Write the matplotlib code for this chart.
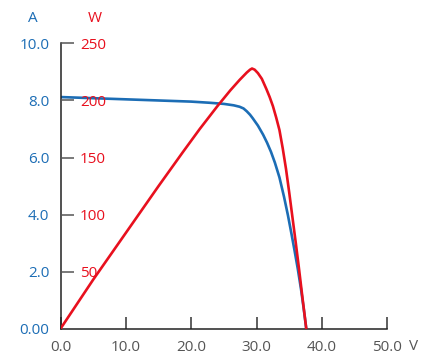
import matplotlib.pyplot as plt

plt.rcParams['font.family'] = ['Open Sans', 'DejaVu Sans']

# I-V curve (current, A)
v_cur = [0, 5, 10, 15, 20, 22.8, 25, 26.5, 27.4, 28.0, 28.5, 29.0, 29.4, 30.2, 31.0, 31.6, 32.2, 32.8, 33.5,
         34.2, 34.8, 35.3, 35.8, 36.3, 36.8, 37.2, 37.6]
i_cur = [8.12, 8.08, 8.04, 8.00, 7.96, 7.92, 7.88, 7.83, 7.78, 7.72, 7.62, 7.50, 7.38, 7.12, 6.80, 6.52, 6.20, 5.82, 5.30,
         4.62, 3.97, 3.37, 2.75, 2.10, 1.38, 0.72, 0.0]

# P-V curve (power, W)
v_pow = [0, 5, 10, 15, 18.75, 21.3, 24, 26, 27.4, 28.5, 29.0, 29.3, 29.7, 30.2, 30.8, 31.5, 32.0, 32.5, 33.0,
         33.5, 34.0, 34.5, 35.0, 35.5, 36.0, 36.5, 37.0, 37.6]
p_pow = [0, 43, 84, 125, 155, 175, 195, 209, 218, 224.5, 227, 228, 227, 224, 219, 210, 203, 195, 185,
         174, 158, 140, 119, 97, 75, 52, 28, 0]

x_ticks = [0, 10, 20, 30, 40, 50]
x_labels = ['0.0', '10.0', '20.0', '30.0', '40.0', '50.0']
a_ticks = [0, 2, 4, 6, 8, 10]
a_labels = ['0.00', '2.0', '4.0', '6.0', '8.0', '10.0']
w_ticks = [50, 100, 150, 200, 250]

blue = '#1c6db5'
red = '#e8101e'
grey = '#555555'
fs = 11

fig = plt.figure(figsize=(4.22, 3.55), dpi=100)
ax = fig.add_axes([0.1434, 0.0741, 0.7744, 0.8036])
ax.set_xlim(0, 50)
ax.set_ylim(0, 10)

ax.plot(v_cur, i_cur, color=blue, lw=1.9, solid_capstyle='round')

for s in ['top', 'right']:
    ax.spines[s].set_visible(False)
for s in ['left', 'bottom']:
    ax.spines[s].set_color('#222222')
    ax.spines[s].set_linewidth(1.1)

ax.set_xticks(x_ticks)
ax.set_xticklabels(x_labels)
ax.tick_params(axis='x', direction='in', length=9, width=1.1, color='#333333',
               labelcolor=grey, labelsize=fs, pad=8)
ax.set_yticks(a_ticks)
ax.set_yticklabels(a_labels)
ax.tick_params(axis='y', direction='in', length=0, labelcolor=blue, labelsize=fs, pad=8)

ax2 = ax.twinx()
ax2.set_ylim(0, 250)
ax2.plot(v_pow, p_pow, color=red, lw=1.9, solid_capstyle='round')
for s in ['top', 'right', 'left', 'bottom']:
    ax2.spines[s].set_visible(False)
ax2.yaxis.set_ticks_position('left')
ax2.set_yticks(w_ticks)
ax2.tick_params(axis='y', direction='in', length=9, width=1.1, color='#555555',
                labelcolor=red, labelsize=fs, pad=-14)
for lab in ax2.get_yticklabels():
    lab.set_horizontalalignment('left')

fig.text(33 / 422, 1 - 18 / 355, 'A', color=blue, fontsize=fs, ha='center', va='center')
fig.text(95 / 422, 1 - 18 / 355, 'W', color=red, fontsize=fs, ha='center', va='center')
fig.text(414 / 422, 1 - 347 / 355, 'V', color=grey, fontsize=fs, ha='center', va='center')

fig.savefig('out.png', dpi=100)
